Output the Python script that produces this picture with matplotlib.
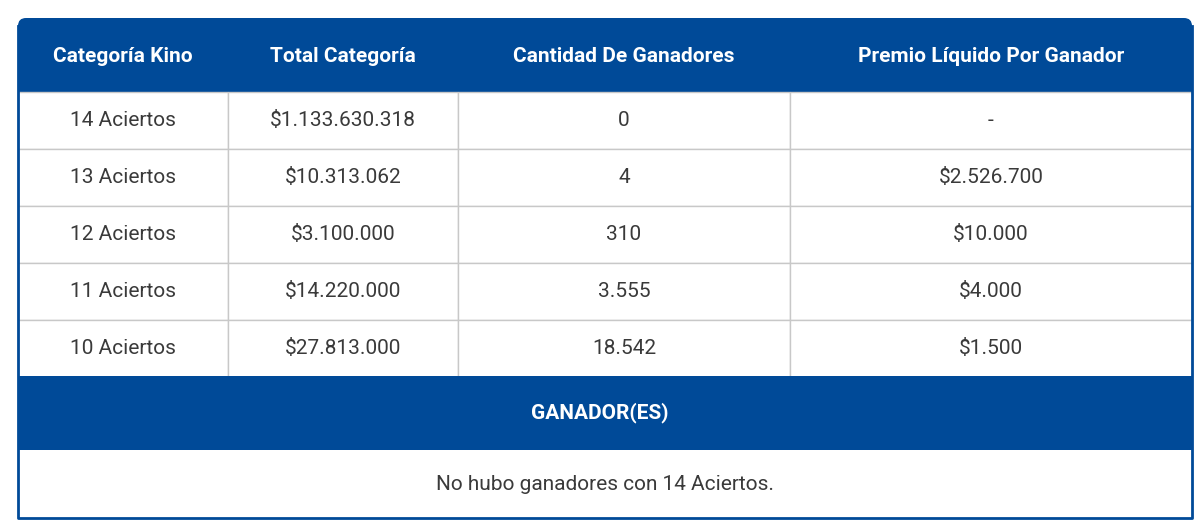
import matplotlib.pyplot as plt
from matplotlib.patches import Rectangle, FancyBboxPatch

headers = ['Categoría Kino', 'Total Categoría', 'Cantidad De Ganadores', 'Premio Líquido Por Ganador']
categorias = ['14 Aciertos', '13 Aciertos', '12 Aciertos', '11 Aciertos', '10 Aciertos']
totales = ['$1.133.630.318', '$10.313.062', '$3.100.000', '$14.220.000', '$27.813.000']
ganadores = ['0', '4', '310', '3.555', '18.542']
premios = ['-', '$2.526.700', '$10.000', '$4.000', '$1.500']
banda = 'GANADOR(ES)'
nota = 'No hubo ganadores con 14 Aciertos.'

blue = '#004a98'
txt = '#3a3a3a'
grid = '#c8c8c8'

cols = [18, 228, 458, 790, 1192]
top, head_b = 18, 92
row_h = 57
band_t, band_b, bottom = 376, 450, 518

fig = plt.figure(figsize=(12, 5.31), dpi=100)
ax = fig.add_axes([0, 0, 1, 1])
ax.set_xlim(0, 1200)
ax.set_ylim(531, 0)
ax.axis('off')

# header with rounded top corners
ax.add_patch(FancyBboxPatch((cols[0], top), cols[-1] - cols[0], 40,
                            boxstyle='round,pad=0,rounding_size=8', fc=blue, ec='none'))
ax.add_patch(Rectangle((cols[0], top + 20), cols[-1] - cols[0], head_b - top - 20, fc=blue, ec='none'))
for i, h in enumerate(headers):
    ax.text((cols[i] + cols[i + 1]) / 2, (top + head_b) / 2 + 1, h, color='white',
            fontsize=15, fontweight='bold', family='Roboto', ha='center', va='center')

rows = list(zip(categorias, totales, ganadores, premios))
for r, vals in enumerate(rows):
    y0 = head_b + r * row_h
    for i, v in enumerate(vals):
        ax.add_patch(Rectangle((cols[i], y0), cols[i + 1] - cols[i], row_h, fc='white', ec=grid, lw=1))
        ax.text((cols[i] + cols[i + 1]) / 2, y0 + row_h / 2, v, color=txt,
                fontsize=15, family='Roboto', ha='center', va='center')

ax.add_patch(Rectangle((cols[0], band_t), cols[-1] - cols[0], band_b - band_t, fc=blue, ec='none'))
ax.text(600, (band_t + band_b) / 2, banda, color='white', fontsize=15, fontweight='bold',
        family='Roboto', ha='center', va='center')
ax.text(605, (band_b + bottom) / 2, nota, color=txt, fontsize=15, family='Roboto',
        ha='center', va='center')

# outer border
ax.plot([cols[0], cols[0], cols[-1], cols[-1]], [top + 8, bottom, bottom, top + 8], color=blue, lw=2)

fig.savefig('out.png', dpi=100)
